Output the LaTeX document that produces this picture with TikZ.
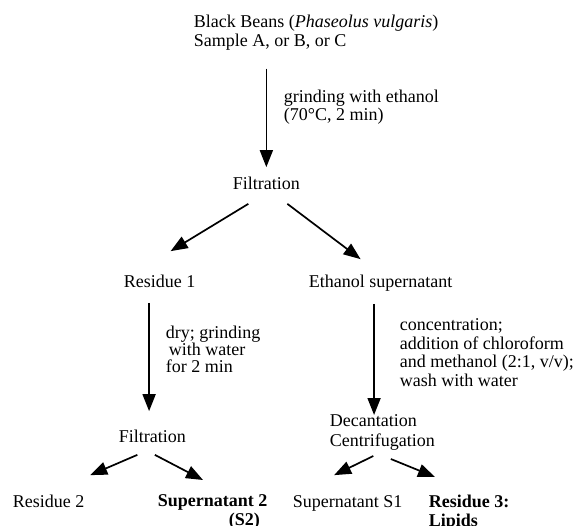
\documentclass[tikz,border=0pt]{standalone}
\usepackage{fontspec}
\setmainfont{Liberation Serif}
\usetikzlibrary{arrows.meta,calc}

\tikzset{
  lbl/.style={anchor=base west,text height=12pt,text depth=4pt},
  txt/.style={anchor=north west,align=left}
}

\begin{document}
\begin{tikzpicture}[x=1pt,y=-1pt,
                every path/.style={>={Triangle[length=17pt,width=13pt]},line width=1.7pt},
                every node/.style={inner sep=0pt,font=\fontsize{18}{18.5}\selectfont}]
  \useasboundingbox (0,0) rectangle (575,526);
  \node[txt,font=\fontsize{18}{19.5}\selectfont] (beans) at (193,14) {Black Beans (\textit{Phaseolus vulgaris})\\Sample A, or B, or C};
  \node[txt]       (grind)  at (283,89)  {grinding with ethanol\\(70°C, 2 min)};
  \node[lbl]       (filt1)  at (232,190) {Filtration};
  \node[lbl]       (res1)   at (123,288) {Residue 1};
  \node[lbl]       (ethsup) at (308,288) {Ethanol supernatant};
  \node[txt,font=\fontsize{18}{17}\selectfont] (dry) at (165,325) {dry; grinding\\\hspace*{3pt}with water\\for 2 min};
  \node[txt]       (conc)   at (399,318) {concentration;\\addition of chloroform\\and methanol (2:1, v/v);\\wash with water};
  \node[lbl]       (filt2)  at (118,442) {Filtration};
  \node[txt,font=\fontsize{18}{19.5}\selectfont] (decant) at (329,414) {Decantation\\Centrifugation};
  \node[lbl]       (res2)   at (12,507)  {Residue 2};
  \node[txt,font=\fontsize{18}{19}\selectfont\bfseries] (sup2) at (157,494) {Supernatant 2\\\hspace*{71pt}(S2)};
  \node[lbl]       (sup1)   at (292,507) {Supernatant S1};
  \node[txt,font=\fontsize{18}{19}\selectfont\bfseries] (res3) at (428,494) {Residue 3:\\Lipids};
  \draw[->] ($(beans.south -| filt1.north)+(0,17)$) -- ($(filt1.north)+(0,-10)$);
  \draw[->] ($(filt1.south)+(-18,9)$) -- ($(res1.north)+(11,-24)$);
  \draw[->] ($(filt1.south)+(21,9)$) -- ($(ethsup.north)+(-20,-16)$);
  \draw[->] ($(res1.south)+(-10.5,10)$) -- ($(res1.south |- filt2.north)+(-10.5,-18)$);
  \draw[->] ($(ethsup.south)+(-6.5,11)$) -- ($(ethsup.south |- decant.north)+(-6.5,1)$);
  \draw[->] ($(filt2.south)+(-15,8)$) -- ($(res2.north east)+(5,-19)$);
  \draw[->] ($(filt2.south)+(2.5,8)$) -- ($(sup2.north west)+(46,-14)$);
  \draw[->] ($(decant.south)+(-9,5)$) -- ($(sup1.north)+(-13.5,-19)$);
  \draw[->] ($(decant.south)+(8.5,8)$) -- ($(res3.north west)+(7,-17)$);
\end{tikzpicture}
\end{document}
